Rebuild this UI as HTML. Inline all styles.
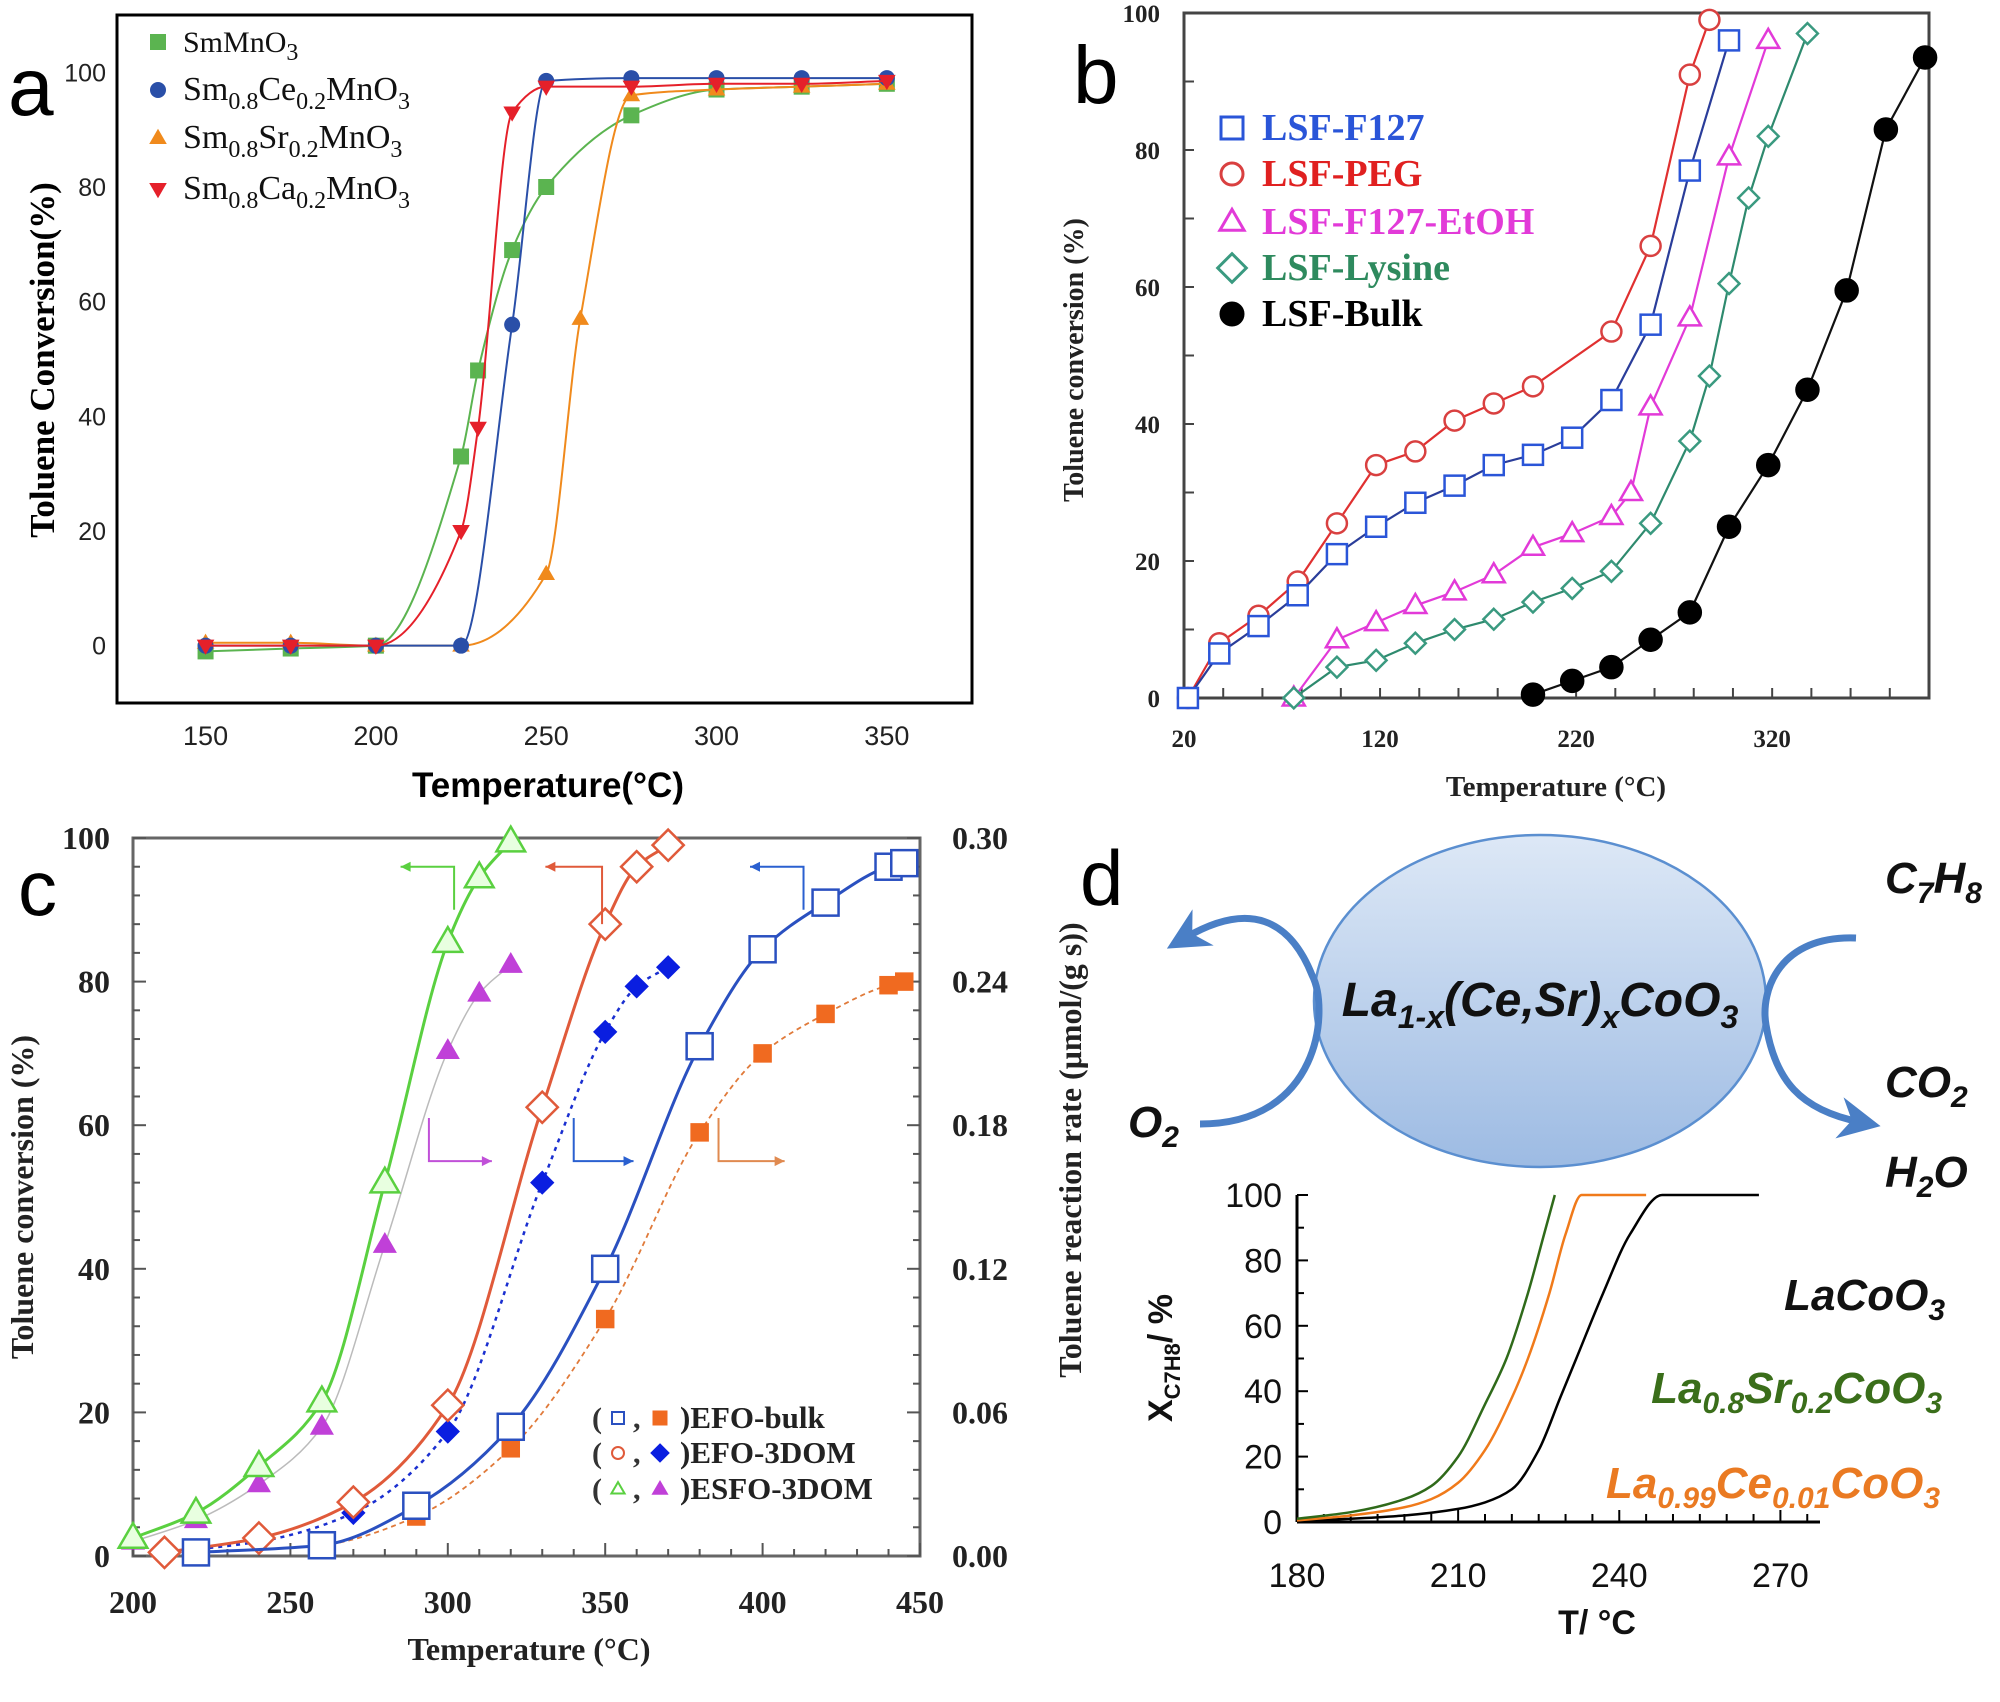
<!DOCTYPE html>
<html><head><meta charset="utf-8">
<style>
html,body{margin:0;padding:0;background:#fff;}
svg{display:block;}
.serif{font-family:"Liberation Serif",serif;}
.sans{font-family:"Liberation Sans",sans-serif;}
</style></head>
<body>
<svg id="fig" width="2000" height="1702" viewBox="0 0 2000 1702" xmlns="http://www.w3.org/2000/svg">
<defs>
<linearGradient id="ellg" x1="0" y1="0" x2="0" y2="1">
<stop offset="0" stop-color="#dde8f6"/><stop offset="1" stop-color="#9dbbe3"/>
</linearGradient>
<marker id="ahb" viewBox="0 0 10 10" refX="5" refY="5" markerWidth="6" markerHeight="6" orient="auto"><path d="M0,0 L10,5 L0,10 L3,5 Z" fill="#4a7fc6"/></marker>
</defs>
<g id="pa"></g>
<g id="pb"></g>
<g id="pc"></g>
<g id="pd"></g>
</svg>
<script>
// ---------- Panel a data ----------
const aTicksX = [150,200,250,300,350];
const aTicksY = [0,20,40,60,80,100];
const aGreenX = [150,175,200,225,230,240,250,275,300,325,350];
const aGreenY = [-1,-0.5,0,33,48,69,80,92.5,97,97.5,98];
const aBlueX = [150,175,200,225,240,250,275,300,325,350];
const aBlueY = [0,0,0,0,56,98.5,99,99,99,99];
const aOrangeX = [150,175,200,225,250,260,275,300,325,350];
const aOrangeY = [0.5,0.5,0,0,12.5,57,96,97,97.5,98];
const aRedX = [150,175,200,225,230,240,250,275,300,325,350];
const aRedY = [0,0,0,20,38,93,97.5,97.5,98,98,98.5];
// ---------- Panel b data ----------
const bTicksX = [20,120,220,320];
const bTicksY = [0,20,40,60,80,100];
const bF127X = [22,38,58,78,98,118,138,158,178,198,218,238,258,278,298];
const bF127Y = [0,6.5,10.5,15,21,25,28.5,31,34,35.5,38,43.5,54.5,77,96];
const bPEGX = [22,38,58,78,98,118,138,158,178,198,238,258,278,288];
const bPEGY = [0,8,12,17,25.5,34,36,40.5,43,45.5,53.5,66,91,99];
const bEtOHX = [76,98,118,138,158,178,198,218,238,248,258,278,298,318];
const bEtOHY = [0,8.5,11,13.5,15.5,18,22,24,26.5,30,42.5,55.5,79,96];
const bLysX = [76,98,118,138,158,178,198,218,238,258,278,288,298,308,318,338];
const bLysY = [0,4.5,5.5,8,10,11.5,14,16,18.5,25.5,37.5,47,60.5,73,82,97];
const bBulkX = [198,218,238,258,278,298,318,338,358,378,398];
const bBulkY = [0.5,2.5,4.5,8.5,12.5,25,34,45,59.5,83,93.5];
// ---------- Panel c data ----------
const cTicksX = [200,250,300,350,400,450];
const cTicksY = [0,20,40,60,80,100];
const cTicksY2 = ["0.00","0.06","0.12","0.18","0.24","0.30"];
const cEsfoConvX = [200,220,240,260,280,300,310,320];
const cEsfoConvY = [2.5,6,12.5,21.5,52,85.5,94.5,99.5];
const cEsfoRateX = [200,220,240,260,280,300,310,320];
const cEsfoRateY = [0.006,0.015,0.030,0.054,0.130,0.211,0.235,0.247];
const cEfo3ConvX = [210,240,270,300,330,350,360,370];
const cEfo3ConvY = [0.5,2.5,7.5,21,62.5,88,96,99];
const cEfo3RateX = [210,240,270,300,330,350,360,370];
const cEfo3RateY = [0.0015,0.006,0.018,0.052,0.156,0.219,0.238,0.246];
const cBulkConvX = [220,260,290,320,350,380,400,420,440,445];
const cBulkConvY = [0.5,1.5,7,18,40,71,84.5,91,96,96.5];
const cBulkRateX = [220,260,290,320,350,380,400,420,440,445];
const cBulkRateY = [0.0015,0.0045,0.0165,0.045,0.099,0.177,0.210,0.2265,0.2385,0.240];
// ---------- Panel d data ----------
const dTicksX = [180,210,240,270];
const dTicksY = [0,20,40,60,80,100];
const dSrX = [180,190,200,205,210,215,219,223,226,228];
const dSrY = [1,3,7,11,20,36,50,70,88,100];
const dCeX = [180,190,200,205,210,215,220,223,227,230,233,245];
const dCeY = [0.5,2,4.5,7,12,22,38,50,70,88,100,100];
const dLaX = [180,190,200,210,215,220,225,229,232,237,242,248,266];
const dLaY = [0.3,1,2,4,6,10,22,38,50,70,88,100,100];

const NS = "http://www.w3.org/2000/svg";
function el(parent, tag, attrs){ const e=document.createElementNS(NS,tag); for(const k in attrs) e.setAttribute(k,attrs[k]); parent.appendChild(e); return e; }
function lin(d0,d1,r0,r1){ return v => r0+(v-d0)*(r1-r0)/(d1-d0); }
// monotone cubic (Fritsch-Carlson), no overshoot
function smooth(pts){
  const n=pts.length; if(n<2) return "";
  const dx=[],dy=[],m=[];
  for(let i=0;i<n-1;i++){dx[i]=pts[i+1][0]-pts[i][0];dy[i]=pts[i+1][1]-pts[i][1];m[i]=dy[i]/dx[i];}
  const t=[m[0]];
  for(let i=1;i<n-1;i++){
    if(m[i-1]*m[i]<=0) t[i]=0;
    else { const w1=2*dx[i]+dx[i-1], w2=dx[i]+2*dx[i-1]; t[i]=(w1+w2)/(w1/m[i-1]+w2/m[i]); }
  }
  t[n-1]=m[n-2];
  let d="M"+pts[0][0]+","+pts[0][1];
  for(let i=0;i<n-1;i++){
    const h=dx[i]/3;
    d+=" C"+(pts[i][0]+h)+","+(pts[i][1]+t[i]*h)+" "+(pts[i+1][0]-h)+","+(pts[i+1][1]-t[i+1]*h)+" "+pts[i+1][0]+","+pts[i+1][1];
  }
  return d;
}
function poly(pts){ return "M"+pts.map(p=>p[0]+","+p[1]).join(" L"); }
function marker(g,type,x,y,s,fill,stroke,sw){
  let e;
  if(type==="square") e=el(g,"rect",{x:x-s,y:y-s,width:2*s,height:2*s,fill:fill,stroke:stroke,"stroke-width":sw});
  else if(type==="circle") e=el(g,"circle",{cx:x,cy:y,r:s,fill:fill,stroke:stroke,"stroke-width":sw});
  else if(type==="tri") e=el(g,"path",{d:`M${x},${y-s*1.15} L${x+s*1.1},${y+s*0.75} L${x-s*1.1},${y+s*0.75} Z`,fill:fill,stroke:stroke,"stroke-width":sw});
  else if(type==="tridown") e=el(g,"path",{d:`M${x},${y+s*1.15} L${x+s*1.1},${y-s*0.75} L${x-s*1.1},${y-s*0.75} Z`,fill:fill,stroke:stroke,"stroke-width":sw});
  else if(type==="diamond") e=el(g,"path",{d:`M${x},${y-s*1.3} L${x+s*1.3},${y} L${x},${y+s*1.3} L${x-s*1.3},${y} Z`,fill:fill,stroke:stroke,"stroke-width":sw});
  return e;
}
function txt(g,x,y,str,attrs){ const t=el(g,"text",Object.assign({x:x,y:y},attrs)); t.textContent=str; return t; }

// ================= Panel a =================
(function(){
  const g=document.getElementById("pa");
  const X=lin(124,375,117,972), Y=lin(-10,110,703,15);
  const box=el(g,"rect",{x:117,y:15,width:855,height:688,fill:"none",stroke:"#000","stroke-width":3});
  
  
  aTicksX.forEach(v=>{
    const t=txt(g,X(v),745,String(v),{class:"sans","font-size":27,"text-anchor":"middle",fill:"#222"});
    
    
  });
  aTicksY.forEach(v=>{
    const t=txt(g,106,Y(v)+9,String(v),{class:"sans","font-size":25,"text-anchor":"end",fill:"#222"});
    
    
  });
  const series=[
    [aGreenX,aGreenY,"#5bb450","square","series-smmno3"],
    [aOrangeX,aOrangeY,"#f08a1c","tri","series-sm-sr"],
    [aBlueX,aBlueY,"#2a4fa8","circle","series-sm-ce"],
    [aRedX,aRedY,"#e5202a","tridown","series-sm-ca"]];
  series.forEach(s=>{
    const pts=s[0].map((x,i)=>[X(x),Y(s[1][i])]);
    const p=el(g,"path",{d:smooth(pts),fill:"none",stroke:s[2],"stroke-width":2});
    
    
    pts.forEach(q=>{
      const m=marker(g,s[3],q[0],q[1],8,s[2],"none",0);
      
      
    });
  });
  const lab=txt(g,8,115,"a",{class:"sans","font-size":82,fill:"#000"});
  
  
  const yt=txt(g,0,0,"Toluene Conversion(%)",{class:"serif","font-size":35,"font-weight":"bold","text-anchor":"middle",transform:"translate(54,360) rotate(-90)"});
  
  
  const xt=txt(g,548,797,"Temperature(°C)",{class:"sans","font-size":35,"font-weight":"bold","text-anchor":"middle"});
  
  
  const leg=[["square","#5bb450","SmMnO","","",52],["circle","#2a4fa8","Sm","Ce",1,100],["tri","#f08a1c","Sm","Sr",1,148],["tridown","#e5202a","Sm","Ca",1,199]];
  leg.forEach(l=>{
    marker(g,l[0],158,l[5]-10,8,l[1],"none",0);
    const t=el(g,"text",{x:183,y:l[5],class:"serif","font-size":34,fill:"#111"});
    
    
    if(l[2]==="SmMnO"){ t.innerHTML='SmMnO<tspan dy="8" font-size="24">3</tspan>'; t.setAttribute("font-size",30); }
    else t.innerHTML=l[2]+'<tspan dy="9" font-size="24">0.8</tspan><tspan dy="-9">'+l[3]+'</tspan><tspan dy="9" font-size="24">0.2</tspan><tspan dy="-9">MnO</tspan><tspan dy="9" font-size="24">3</tspan>';
  });
})();

// ================= Panel b =================
(function(){
  const g=document.getElementById("pb");
  const X=lin(20,400,1184,1929), Y=lin(0,100,698,13);
  const box=el(g,"rect",{x:1184,y:13,width:745,height:685,fill:"none",stroke:"#444","stroke-width":3});
  
  
  for(let v=20;v<=400;v+=20) el(g,"line",{x1:X(v),y1:698,x2:X(v),y2:688,stroke:"#444","stroke-width":2});
  for(let v=0;v<=100;v+=10) el(g,"line",{x1:1184,y1:Y(v),x2:1194,y2:Y(v),stroke:"#444","stroke-width":2});
  bTicksX.forEach(v=>{
    const t=txt(g,X(v),747,String(v),{class:"serif","font-size":25,"font-weight":"bold","text-anchor":"middle",fill:"#222"});
    
    
  });
  bTicksY.forEach(v=>{
    const t=txt(g,1160,Y(v)+9,String(v),{class:"serif","font-size":25,"font-weight":"bold","text-anchor":"end",fill:"#222"});
    
    
  });
  const series=[
    [bPEGX,bPEGY,"#e03030","#d94040","circle","series-lsf-peg"],
    [bF127X,bF127Y,"#2a3d9a","#2a55d8","square","series-lsf-f127"],
    [bEtOHX,bEtOHY,"#e23ad8","#e23ad8","tri","series-lsf-f127-etoh"],
    [bLysX,bLysY,"#2e8a6e","#3a9a80","diamond","series-lsf-lysine"],
    [bBulkX,bBulkY,"#111","#000","circle","series-lsf-bulk"]];
  series.forEach(s=>{
    const pts=s[0].map((x,i)=>[X(x),Y(s[1][i])]);
    const p=el(g,"path",{d:poly(pts),fill:"none",stroke:s[2],"stroke-width":2.2});
    
    
    pts.forEach(q=>{
      const bulk=s[5]==="series-lsf-bulk";
      const m=marker(g,s[4],q[0],q[1],bulk?11:(s[4]==="diamond"?8:10),bulk?"#000":"#fff",s[3],2.5);
      
      
    });
  });
  const lab=txt(g,1073,103,"b",{class:"sans","font-size":82,fill:"#000"});
  
  
  const leg=[["square","#2a55d8","#2a55d8","#fff","LSF-F127",140],["circle","#d94040","#e02020","#fff","LSF-PEG",186],["tri","#e23ad8","#e23ad8","#fff","LSF-F127-EtOH",234],["diamond","#3a9a80","#2e8a5e","#fff","LSF-Lysine",280],["circle","#000","#000","#000","LSF-Bulk",326]];
  leg.forEach(l=>{
    marker(g,l[0],1232,l[5]-12,11,l[3],l[1],3);
    const t=txt(g,1262,l[5],l[4],{class:"serif","font-size":38,"font-weight":"bold",fill:l[2]});
    
    
  });
  const yt=txt(g,0,0,"Toluene conversion (%)",{class:"serif","font-size":28,"font-weight":"bold","text-anchor":"middle",fill:"#222",transform:"translate(1083,360) rotate(-90)"});
  
  
  const xt=txt(g,1556,796,"Temperature (°C)",{class:"serif","font-size":29,"font-weight":"bold","text-anchor":"middle",fill:"#222"});
  
  
})();

// ================= Panel c =================
(function(){
  const g=document.getElementById("pc");
  const X=lin(200,450,133,920), Y=lin(0,100,1556,838), Y2=lin(0,0.3,1556,838);
  const box=el(g,"rect",{x:133,y:838,width:787,height:718,fill:"none",stroke:"#666","stroke-width":3});
  
  
  for(let v=200;v<=450;v+=10) el(g,"line",{x1:X(v),y1:1556,x2:X(v),y2:v%50?1549:1543,stroke:"#555","stroke-width":2});
  for(let v=0;v<=100;v+=4) el(g,"line",{x1:133,y1:Y(v),x2:v%20?140:146,y2:Y(v),stroke:"#555","stroke-width":2});
  for(let v=0;v<=100;v+=4) el(g,"line",{x1:920,y1:Y(v),x2:v%20?913:907,y2:Y(v),stroke:"#555","stroke-width":2});
  cTicksX.forEach(v=>{
    const t=txt(g,X(v),1613,String(v),{class:"serif","font-size":32,"font-weight":"bold","text-anchor":"middle",fill:"#222"});
    
    
  });
  cTicksY.forEach(v=>{
    const t=txt(g,110,Y(v)+11,String(v),{class:"serif","font-size":32,"font-weight":"bold","text-anchor":"end",fill:"#222"});
    
    
  });
  cTicksY2.forEach((v,i)=>{
    const t=txt(g,952,Y2(parseFloat(v))+11,v,{class:"serif","font-size":32,"font-weight":"bold",fill:"#222"});
    
    
  });
  const series=[
    [cEsfoRateX,cEsfoRateY,Y2,"#bbb",1.5,"","tri","#c040d8","#c040d8",9,"series-esfo-rate"],
    [cEsfoConvX,cEsfoConvY,Y,"#5ad040",3,"","tri","#e8ffe0","#5ad040",13,"series-esfo-conv"],
    [cEfo3RateX,cEfo3RateY,Y2,"#1a2fd0",2.5,"4,5","diamond","#0a1ee0","#0a1ee0",8,"series-efo3dom-rate"],
    [cEfo3ConvX,cEfo3ConvY,Y,"#e05a3a",3,"","diamond","#fff","#e05a3a",12,"series-efo3dom-conv"],
    [cBulkRateX,cBulkRateY,Y2,"#e07a3a",1.8,"5,4","square","#f06a20","#f06a20",8,"series-efobulk-rate"],
    [cBulkConvX,cBulkConvY,Y,"#2a50c0",3,"","square","#fff","#2a50c0",13,"series-efobulk-conv"]];
  series.forEach(s=>{
    const pts=s[0].map((x,i)=>[X(x),s[2](s[1][i])]);
    const a={d:smooth(pts),fill:"none",stroke:s[3],"stroke-width":s[4]};
    if(s[5]) a["stroke-dasharray"]=s[5];
    const p=el(g,"path",a);
    
    
    pts.forEach(q=>{
      const m=marker(g,s[6],q[0],q[1],s[9],s[7],s[8],2.5);
      
      
    });
  });
  const arrows=[[302,285,96,90,"#5ad040",-1],[349,331,96,88,"#e05a3a",-1],[413,396,96,90,"#2a60d0",-1],[294,314,55,61,"#c050d8",1],[340,359,55,61,"#2a60d0",1],[386,407,55,61,"#e08a50",1]];
  arrows.forEach(a=>{
    const gx=el(g,"g",{});
    
    
    el(gx,"path",{d:`M${X(a[0])},${Y(a[3])} L${X(a[0])},${Y(a[2])} L${X(a[1])},${Y(a[2])}`,fill:"none",stroke:a[4],"stroke-width":2});
    const ex=X(a[1]), ey=Y(a[2]);
    el(gx,"path",{d:`M${ex},${ey} L${ex-a[5]*10},${ey-5} L${ex-a[5]*10},${ey+5} Z`,fill:a[4]});
  });
  const leg=[["square","#2a50c0","square","#f06a20","EFO-bulk",1428],["circle","#e05a3a","diamond","#0a1ee0","EFO-3DOM",1463],["tri","#5ad040","tri","#c040d8","ESFO-3DOM",1499]];
  leg.forEach(l=>{
    txt(g,592,l[5],"(",{class:"serif","font-size":30,"font-weight":"bold",fill:"#333"});
    marker(g,l[0],618,l[5]-10,6,"#fff",l[1],2);
    txt(g,633,l[5],",",{class:"serif","font-size":30,"font-weight":"bold",fill:"#333"});
    marker(g,l[2],660,l[5]-10,7,l[3],l[3],1);
    const t=txt(g,680,l[5],")"+l[4],{class:"serif","font-size":31,"font-weight":"bold",fill:"#222"});
    
    
  });
  const lab=txt(g,18,915,"c",{class:"sans","font-size":78,fill:"#000"});
  
  
  const yt=txt(g,0,0,"Toluene conversion (%)",{class:"serif","font-size":32,"font-weight":"bold","text-anchor":"middle",fill:"#222",transform:"translate(33,1197) rotate(-90)"});
  
  
  const y2t=txt(g,0,0,"Toluene reaction rate (μmol/(g s))",{class:"serif","font-size":32,"font-weight":"bold","text-anchor":"middle",fill:"#222",transform:"translate(1081,1150) rotate(-90)"});
  
  
  const xt=txt(g,529,1660,"Temperature (°C)",{class:"serif","font-size":32,"font-weight":"bold","text-anchor":"middle",fill:"#222"});
  
  
})();

// ================= Panel d =================
(function(){
  const g=document.getElementById("pd");
  const lab=txt(g,1080,905,"d",{class:"sans","font-size":78,fill:"#000"});
  
  
  const ell=el(g,"ellipse",{cx:1540,cy:1001,rx:226,ry:166,fill:"url(#ellg)",stroke:"#5b8fd0","stroke-width":2.5});
  
  
  const arL=el(g,"path",{d:"M1200,1124 C1320,1124 1330,1010 1312,975 C1290,920 1250,900 1185,938",fill:"none",stroke:"#4a7fc6","stroke-width":7,"marker-end":"url(#ahb)"});
  
  
  const arR=el(g,"path",{d:"M1856,938 C1780,935 1760,990 1766,1025 C1775,1080 1800,1110 1860,1122",fill:"none",stroke:"#4a7fc6","stroke-width":7,"marker-end":"url(#ahb)"});
  
  
  const ct=el(g,"text",{x:1540,y:1016,class:"sans","font-size":48,"font-weight":"bold","font-style":"italic","text-anchor":"middle",fill:"#111"});
  ct.innerHTML='La<tspan dy="12" font-size="32">1-x</tspan><tspan dy="-12">(Ce,Sr)</tspan><tspan dy="12" font-size="32">x</tspan><tspan dy="-12">CoO</tspan><tspan dy="12" font-size="32">3</tspan>';
  
  
  const labels=[[1885,893,'C<tspan dy="10" font-size="30">7</tspan><tspan dy="-10">H</tspan><tspan dy="10" font-size="30">8</tspan>',"reactant-c7h8"],
    [1885,1097,'CO<tspan dy="10" font-size="30">2</tspan>',"product-co2"],
    [1885,1187,'H<tspan dy="10" font-size="30">2</tspan><tspan dy="-10">O</tspan>',"product-h2o"],
    [1128,1137,'O<tspan dy="10" font-size="30">2</tspan>',"reactant-o2"]];
  labels.forEach(l=>{
    const t=el(g,"text",{x:l[0],y:l[1],class:"sans","font-size":44,"font-weight":"bold","font-style":"italic",fill:"#111"});
    t.innerHTML=l[2];
    
    
  });
  const X=lin(180,277,1297,1818), Y=lin(0,100,1522,1195);
  el(g,"line",{x1:1297,y1:1195,x2:1297,y2:1522,stroke:"#000","stroke-width":3});
  el(g,"line",{x1:1297,y1:1522,x2:1820,y2:1522,stroke:"#000","stroke-width":3});
  for(let v=180;v<=275;v+=5) el(g,"line",{x1:X(v),y1:1522,x2:X(v),y2:v%30?1514:1510,stroke:"#000","stroke-width":2});
  for(let v=0;v<=100;v+=10) el(g,"line",{x1:1297,y1:Y(v),x2:v%20?1304:1308,y2:Y(v),stroke:"#000","stroke-width":2});
  dTicksX.forEach(v=>{
    const t=txt(g,X(v),1587,String(v),{class:"sans","font-size":34,"text-anchor":"middle",fill:"#111"});
    
    
  });
  dTicksY.forEach(v=>{
    const t=txt(g,1282,Y(v)+12,String(v),{class:"sans","font-size":34,"text-anchor":"end",fill:"#111"});
    
    
  });
  const series=[[dLaX,dLaY,"#000","curve-lacoo3"],[dCeX,dCeY,"#f07a1a","curve-la-ce"],[dSrX,dSrY,"#2f6a1a","curve-la-sr"]];
  series.forEach(s=>{
    const pts=s[0].map((x,i)=>[X(x),Y(s[1][i])]);
    const p=el(g,"path",{d:smooth(pts),fill:"none",stroke:s[2],"stroke-width":2.5});
    
    
  });
  const legs=[[1945,1310,"#111",'LaCoO<tspan dy="10" font-size="30">3</tspan>',"label-lacoo3"],
    [1942,1403,"#3a6e1a",'La<tspan dy="10" font-size="30">0.8</tspan><tspan dy="-10">Sr</tspan><tspan dy="10" font-size="30">0.2</tspan><tspan dy="-10">CoO</tspan><tspan dy="10" font-size="30">3</tspan>',"label-la-sr"],
    [1940,1498,"#ea7a22",'La<tspan dy="10" font-size="30">0.99</tspan><tspan dy="-10">Ce</tspan><tspan dy="10" font-size="30">0.01</tspan><tspan dy="-10">CoO</tspan><tspan dy="10" font-size="30">3</tspan>',"label-la-ce"]];
  legs.forEach(l=>{
    const t=el(g,"text",{x:l[0],y:l[1],class:"sans","font-size":44,"font-weight":"bold","font-style":"italic","text-anchor":"end",fill:l[2]});
    t.innerHTML=l[3];
    
    
  });
  const yt=el(g,"text",{class:"sans","font-size":34,"font-weight":"bold","text-anchor":"middle",fill:"#111",transform:"translate(1172,1358) rotate(-90)"});
  yt.innerHTML='X<tspan dy="8" font-size="22">C7H8</tspan><tspan dy="-8">/  %</tspan>';
  
  
  const xt=txt(g,1597,1634,"T/  °C",{class:"sans","font-size":34,"font-weight":"bold","text-anchor":"middle",fill:"#111"});
  
  
})();
</script>
</body></html>
